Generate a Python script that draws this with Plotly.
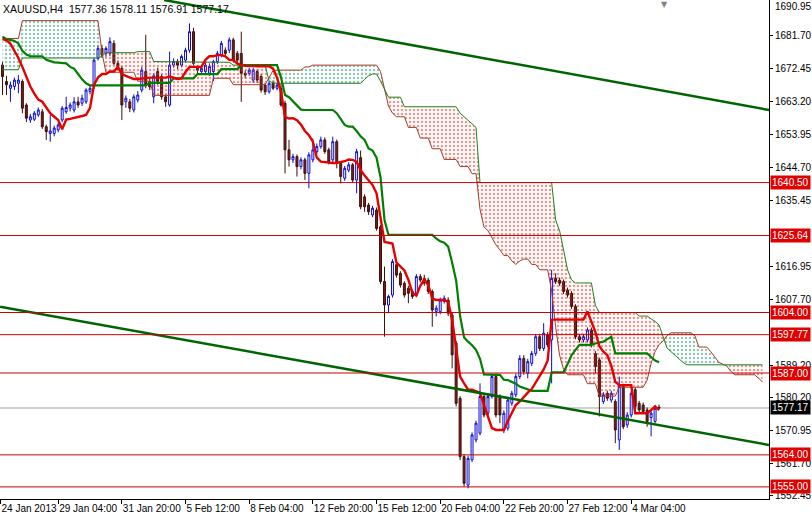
import numpy as np
import plotly.graph_objects as go

# ---------------- data ----------------
opens = [1673.5, 1668.9, 1667.0, 1667.5, 1668.4, 1668.9, 1662.3, 1658.1, 1658.3, 1659.5,
         1660.4, 1656.2, 1654.3, 1654.3, 1655.3, 1658.1, 1660.4, 1661.4, 1660.9, 1663.2,
         1662.8, 1663.2, 1666.1, 1667.5, 1675.4, 1678.2, 1676.8, 1676.8, 1679.6, 1674.0,
         1672.6, 1663.2, 1663.2, 1660.9, 1663.7, 1666.5, 1671.7, 1668.9, 1664.6, 1671.7,
         1670.3, 1664.6, 1662.3, 1673.5, 1674.5, 1673.5, 1674.9, 1677.7, 1682.9, 1672.6,
         1671.7, 1671.7, 1671.2, 1671.7, 1674.5, 1676.3, 1677.7, 1677.7, 1680.6, 1676.8,
         1676.8, 1671.2, 1671.2, 1669.3, 1671.7, 1670.3, 1667.9, 1666.0, 1668.4, 1667.0,
         1667.0, 1662.8, 1649.7, 1646.9, 1647.8, 1645.0, 1646.9, 1643.1, 1646.9, 1649.2,
         1650.6, 1652.5, 1649.7, 1646.9, 1652.0, 1645.9, 1641.7, 1644.0, 1645.5, 1641.2,
         1647.5, 1636.5, 1634.2, 1631.4, 1632.8, 1628.1, 1612.7, 1606.1, 1608.9, 1617.4,
         1615.0, 1612.2, 1610.8, 1609.9, 1608.9, 1614.1, 1613.6, 1613.1, 1609.9, 1604.3,
         1604.3, 1607.1, 1607.5, 1603.3, 1595.4, 1579.9, 1563.5, 1555.5, 1562.6, 1568.2,
         1570.1, 1580.4, 1575.7, 1580.4, 1586.0, 1580.4, 1571.0, 1571.5, 1578.5, 1580.9,
         1586.0, 1591.1, 1586.9, 1589.7, 1592.5, 1597.2, 1593.9, 1597.7, 1596.3, 1613.6,
         1613.1, 1612.7, 1610.3, 1609.4, 1605.7, 1597.2, 1596.3, 1596.3, 1599.1, 1592.5,
         1590.7, 1579.0, 1581.3, 1579.4, 1579.0, 1568.2, 1583.2, 1572.4, 1575.2, 1582.3,
         1578.5, 1578.0, 1576.6, 1574.5, 1573.4, 1577.36]
highs = [1674.5, 1670.5, 1668.9, 1670.0, 1670.7, 1669.5, 1662.8, 1659.8, 1660.6, 1661.6,
         1661.2, 1656.8, 1659.5, 1656.5, 1657.3, 1662.0, 1664.6, 1663.0, 1664.5, 1664.6,
         1665.2, 1667.0, 1668.0, 1675.5, 1679.0, 1679.2, 1678.8, 1681.3, 1680.5, 1674.8,
         1673.2, 1665.0, 1664.0, 1665.3, 1666.2, 1673.0, 1682.0, 1669.8, 1671.2, 1672.8,
         1671.0, 1665.3, 1677.3, 1675.4, 1675.2, 1676.5, 1678.4, 1685.2, 1684.0, 1673.4,
         1673.2, 1674.2, 1674.0, 1675.0, 1677.5, 1680.3, 1678.5, 1681.3, 1681.2, 1677.5,
         1682.9, 1672.0, 1672.8, 1672.8, 1672.3, 1671.0, 1668.5, 1669.0, 1669.2, 1668.6,
         1668.2, 1663.5, 1652.5, 1648.6, 1648.4, 1647.6, 1647.5, 1649.0, 1652.9, 1651.5,
         1653.4, 1653.2, 1650.3, 1653.4, 1652.6, 1646.5, 1645.2, 1646.2, 1646.0, 1650.0,
         1649.5, 1637.2, 1634.8, 1634.0, 1633.5, 1628.6, 1616.9, 1609.0, 1619.0, 1618.2,
         1615.6, 1612.8, 1611.5, 1610.5, 1614.8, 1614.8, 1614.6, 1613.8, 1610.5, 1606.0,
         1608.2, 1608.8, 1608.3, 1604.0, 1596.0, 1580.5, 1564.2, 1563.8, 1570.3, 1573.6,
         1584.1, 1581.0, 1581.2, 1586.8, 1586.9, 1581.0, 1576.5, 1580.2, 1582.0, 1586.8,
         1592.0, 1592.0, 1591.0, 1593.2, 1598.0, 1598.0, 1601.0, 1598.5, 1616.0, 1615.0,
         1613.8, 1613.3, 1611.0, 1610.0, 1606.3, 1598.0, 1598.0, 1599.8, 1599.8, 1593.2,
         1591.3, 1581.6, 1582.0, 1582.0, 1579.6, 1586.0, 1584.0, 1576.0, 1582.0, 1583.0,
         1579.2, 1578.7, 1577.3, 1576.3, 1578.0, 1578.11]
lows = [1665.1, 1665.1, 1663.2, 1666.5, 1665.6, 1660.0, 1657.5, 1657.3, 1657.8, 1659.0,
        1655.6, 1652.5, 1652.0, 1653.5, 1654.6, 1657.5, 1659.8, 1660.5, 1660.2, 1661.5,
        1662.0, 1662.6, 1665.3, 1666.8, 1674.8, 1675.5, 1675.8, 1676.0, 1673.5, 1672.3,
        1658.1, 1661.5, 1660.3, 1660.2, 1663.0, 1665.8, 1667.0, 1666.5, 1662.8, 1668.0,
        1663.8, 1661.8, 1661.8, 1672.8, 1672.4, 1672.9, 1674.2, 1677.0, 1673.5, 1671.2,
        1670.8, 1671.0, 1670.5, 1669.0, 1673.8, 1675.7, 1676.0, 1676.9, 1674.2, 1674.0,
        1663.2, 1669.8, 1670.5, 1668.5, 1668.5, 1665.8, 1665.1, 1665.5, 1666.5, 1666.4,
        1661.8, 1643.1, 1645.0, 1646.0, 1642.2, 1644.2, 1641.2, 1638.9, 1646.2, 1648.5,
        1650.0, 1648.6, 1645.6, 1646.2, 1644.5, 1640.3, 1641.0, 1643.4, 1640.5, 1637.5,
        1633.0, 1632.3, 1631.4, 1630.8, 1627.0, 1612.0, 1597.2, 1603.8, 1608.2, 1613.8,
        1611.0, 1608.2, 1606.6, 1607.8, 1608.3, 1612.5, 1611.5, 1609.2, 1600.0, 1602.9,
        1603.5, 1606.5, 1603.0, 1588.3, 1577.6, 1562.5, 1555.1, 1554.6, 1562.0, 1567.5,
        1569.5, 1574.5, 1575.0, 1579.8, 1574.5, 1572.9, 1570.1, 1570.8, 1577.8, 1580.2,
        1585.3, 1586.5, 1585.5, 1589.0, 1591.8, 1593.2, 1593.2, 1594.2, 1584.1, 1612.0,
        1611.5, 1609.2, 1608.2, 1605.0, 1596.5, 1595.6, 1595.6, 1595.6, 1594.2, 1586.9,
        1574.8, 1578.3, 1579.2, 1578.7, 1567.3, 1565.4, 1571.2, 1571.6, 1574.5, 1576.6,
        1575.9, 1575.5, 1571.9, 1569.2, 1572.8, 1576.91]
closes = [1670.3, 1668.0, 1667.9, 1669.3, 1669.3, 1661.4, 1658.6, 1659.0, 1660.0, 1660.9,
          1656.2, 1654.8, 1655.0, 1655.8, 1656.7, 1661.4, 1661.6, 1662.3, 1663.2, 1662.3,
          1664.2, 1666.5, 1667.0, 1674.9, 1678.2, 1676.3, 1678.2, 1680.1, 1674.0, 1673.1,
          1662.3, 1664.2, 1661.4, 1664.6, 1665.1, 1672.1, 1667.9, 1667.4, 1670.5, 1668.9,
          1664.6, 1663.2, 1673.5, 1674.5, 1673.5, 1675.9, 1677.7, 1682.9, 1674.0, 1672.1,
          1672.6, 1673.5, 1673.1, 1674.5, 1676.8, 1679.6, 1676.8, 1680.6, 1674.9, 1674.9,
          1671.2, 1670.7, 1672.1, 1672.1, 1669.3, 1666.5, 1666.0, 1668.4, 1667.0, 1667.9,
          1662.3, 1649.7, 1646.9, 1647.8, 1645.0, 1646.9, 1643.1, 1648.3, 1649.7, 1650.6,
          1652.5, 1649.2, 1646.4, 1652.0, 1645.9, 1642.2, 1644.5, 1645.5, 1641.2, 1649.2,
          1633.7, 1633.7, 1632.3, 1633.3, 1627.6, 1612.7, 1606.1, 1608.5, 1618.3, 1614.5,
          1611.7, 1608.9, 1609.4, 1608.5, 1614.1, 1613.1, 1612.2, 1609.9, 1604.7, 1605.2,
          1607.5, 1608.0, 1603.8, 1592.1, 1578.5, 1563.5, 1556.0, 1563.0, 1569.6, 1572.9,
          1580.4, 1575.2, 1580.4, 1586.0, 1575.2, 1575.2, 1575.7, 1579.4, 1581.3, 1586.0,
          1591.1, 1587.4, 1590.2, 1592.5, 1597.2, 1593.9, 1598.2, 1594.9, 1613.6, 1612.7,
          1612.2, 1609.9, 1608.9, 1605.7, 1597.2, 1596.3, 1597.2, 1599.1, 1594.9, 1588.8,
          1580.4, 1580.9, 1579.9, 1581.3, 1571.0, 1583.2, 1571.9, 1575.2, 1581.3, 1577.6,
          1576.6, 1576.2, 1573.4, 1575.7, 1577.1, 1577.17]

tenkan = [1680.8, 1680.5, 1679.5, 1677.5, 1675.5, 1673.0, 1670.0, 1667.5, 1665.5, 1663.8,
          1663.2, 1661.5, 1660.0, 1659.0, 1658.1, 1655.5, 1658.2, 1658.4, 1658.6, 1659.0,
          1659.2, 1659.5, 1661.5, 1668.0, 1670.0, 1671.0, 1671.0, 1671.7, 1671.7, 1673.0,
          1671.0, 1670.5, 1670.0, 1669.6, 1669.6, 1669.8, 1669.8, 1670.0, 1670.0, 1670.0,
          1670.0, 1670.0, 1670.3, 1670.0, 1669.6, 1669.8, 1671.6, 1673.0, 1673.0, 1673.0,
          1673.0, 1675.0, 1676.0, 1676.0, 1676.3, 1676.3, 1676.0, 1675.0, 1674.9, 1674.0,
          1673.5, 1673.3, 1673.2, 1673.2, 1673.2, 1673.2, 1673.2, 1673.2, 1672.5, 1670.0,
          1666.0, 1659.0, 1658.5, 1658.6, 1658.0, 1656.8, 1655.0, 1653.8, 1652.0, 1647.5,
          1646.4, 1646.2, 1646.0, 1646.0, 1646.0, 1646.2, 1646.5, 1647.0, 1646.9, 1646.3,
          1644.0, 1642.5, 1641.0, 1639.8, 1637.5, 1630.0, 1623.8, 1623.6, 1623.4, 1618.0,
          1617.0, 1615.8, 1613.2, 1609.5, 1608.8, 1611.5, 1613.3, 1611.7, 1608.0, 1607.5,
          1607.5, 1607.5, 1607.0, 1602.0, 1594.0, 1586.0, 1584.1, 1582.3, 1582.3, 1582.0,
          1581.5, 1578.0, 1574.5, 1571.5, 1571.0, 1571.0, 1571.0, 1573.5, 1576.0, 1578.0,
          1579.0, 1580.4, 1581.5, 1582.5, 1584.3, 1586.0, 1588.0, 1590.5, 1602.0, 1602.0,
          1602.0, 1602.0, 1602.0, 1602.0, 1602.0, 1602.0, 1602.0, 1604.3, 1601.5, 1598.5,
          1594.5, 1593.0, 1592.0, 1589.0, 1584.5, 1583.6, 1583.6, 1583.6, 1583.6, 1575.7,
          1575.7, 1575.7, 1575.7, 1576.6, 1577.6, 1576.6]
kijun = [1681.5, 1680.8, 1680.6, 1680.3, 1679.6, 1677.5, 1676.5, 1676.0, 1676.0, 1676.0,
         1676.0, 1675.0, 1674.6, 1674.3, 1674.2, 1674.0, 1674.0, 1673.0, 1672.5, 1671.0,
         1669.5, 1668.4, 1667.8, 1667.8, 1667.8, 1667.8, 1667.8, 1667.8, 1667.8, 1667.8,
         1667.8, 1667.8, 1667.8, 1667.8, 1667.8, 1667.8, 1667.8, 1668.5, 1668.5, 1668.5,
         1668.5, 1668.5, 1668.5, 1669.8, 1669.8, 1669.8, 1669.8, 1669.8, 1669.8, 1671.0,
         1671.0, 1671.0, 1671.0, 1671.0, 1671.0, 1672.4, 1672.4, 1672.4, 1672.4, 1672.4,
         1673.5, 1673.5, 1673.5, 1673.5, 1673.5, 1673.5, 1673.5, 1673.5, 1673.5, 1673.5,
         1670.0, 1665.1, 1664.5, 1663.3, 1662.0, 1661.0, 1660.9, 1660.9, 1660.9, 1660.9,
         1660.9, 1660.9, 1660.9, 1660.9, 1660.0, 1658.5, 1656.7, 1656.2, 1656.2, 1655.0,
         1653.5, 1652.5, 1650.1, 1649.5, 1647.5, 1642.0, 1630.0, 1625.8, 1625.8, 1625.8,
         1625.8, 1625.8, 1625.8, 1625.8, 1625.8, 1625.8, 1625.8, 1625.8, 1625.8, 1624.8,
         1624.0, 1623.6, 1622.5, 1618.0, 1613.0, 1603.0, 1597.0, 1595.8, 1594.8, 1593.5,
         1591.0, 1586.6, 1586.5, 1586.5, 1586.5, 1586.5, 1585.1, 1585.0, 1584.5, 1584.0,
         1583.2, 1582.8, 1582.3, 1582.0, 1582.0, 1582.0, 1582.0, 1582.0, 1587.2, 1587.2,
         1587.2, 1587.2, 1589.5, 1592.0, 1593.5, 1594.9, 1594.9, 1594.9, 1594.9, 1595.3,
         1595.6, 1595.8, 1596.5, 1597.2, 1592.5, 1592.5, 1592.5, 1592.5, 1592.5, 1592.5,
         1592.5, 1592.5, 1592.5, 1591.5, 1590.5, 1590.0]

# Senkou spans (already shifted 26 bars forward)
span_a = ([1681.0] * 5 + [1686.0] * 20 + [1677.0] + [1671.5] * 8 + [1669.0] * 4 +
          [1665.0] * 15 + [1669.8] * 5 + [1668.0] * 9 + [1670.0, 1672.0] + [1672.1] * 7 +
          [1673.0] * 2 + [1673.5] * 17 + [1671.7, 1667.0, 1662.0, 1660.0] + [1659.0] * 3 +
          [1656.0] * 3 + [1653.0] * 3 + [1650.0] * 3 + [1647.0] * 4 + [1645.0] * 3 +
          [1643.0] * 2 + [1633.0, 1628.0, 1627.0, 1625.0, 1623.0, 1621.6] + [1620.0] * 2 +
          [1618.5, 1617.5, 1618.5] + [1619.0] * 2 + [1617.5] * 2 + [1616.0] * 3 +
          [1610.0, 1600.0, 1592.0, 1588.0] + [1586.5] * 5 + [1584.0] * 3 + [1580.5] * 5 +
          [1583.0] * 7 + [1585.0, 1589.7, 1593.0, 1595.0, 1596.0, 1597.5] + [1598.3] * 6 +
          [1597.5] + [1594.3] * 3 + [1593.0, 1591.5, 1590.0, 1589.5, 1589.0, 1587.5] +
          [1586.5] * 6 + [1585.5, 1584.5])
span_b = ([1672.2] * 5 + [1675.5] * 20 + [1676.0] + [1677.0] * 8 + [1677.3] * 4 +
          [1674.5] * 6 + [1674.3] * 14 + [1673.5] * 9 + [1669.0, 1668.5] + [1668.4] * 22 +
          [1669.5, 1670.5] + [1671.0] * 2 + [1669.0, 1666.5] + [1664.5] * 4 + [1661.8] * 14 +
          [1660.0, 1659.0, 1658.0, 1657.0, 1656.0] + [1640.5] * 19 +
          [1630.0, 1627.0, 1621.6, 1616.0, 1613.2] + [1612.3] * 5 + [1606.0] + [1604.0] * 10 +
          [1603.0] * 3 + [1602.2, 1601.5, 1600.5, 1597.5, 1594.0, 1593.0, 1592.0, 1591.0, 1590.0] +
          [1589.3] * 20)

levels = [1640.50, 1625.64, 1604.00, 1597.77, 1587.00, 1564.00, 1555.00]
last_price = 1577.17
header = "XAUUSD,H4  1577.36 1578.11 1576.91 1577.17"

price_ticks = [1681.70, 1672.45, 1663.20, 1653.95, 1644.70, 1635.45,
               1616.95, 1607.70, 1589.20, 1580.20, 1570.95, 1561.70, 1552.45]
top_price_label = 1690.95
time_tick_idx = [-0.5, 14, 30, 46, 62, 78, 94, 110, 126, 142, 158]
time_tick_text = ["24 Jan 2013", "29 Jan 04:00", "31 Jan 20:00", "5 Feb 12:00", "8 Feb 04:00",
                  "12 Feb 20:00", "15 Feb 12:00", "20 Feb 04:00", "22 Feb 20:00",
                  "27 Feb 12:00", "4 Mar 04:00"]

# trend lines: (bar index, price) end points
upper_trend_x = [40.6, 192.6]
upper_trend_y = [1691.8, 1660.9]
lower_trend_x = [-0.6, 192.6]
lower_trend_y = [1605.6, 1566.8]

# ---------------- figure ----------------
idx = list(range(len(opens)))
cidx = list(range(len(span_a)))
A = np.array(span_a)
B = np.array(span_b)
top = np.maximum(A, B)

fig = go.Figure()
clear = 'rgba(0,0,0,0)'
# bullish cloud (A above B) - green dots
fig.add_trace(go.Scatter(x=cidx, y=B, mode='lines', line=dict(width=0, color=clear), hoverinfo='skip'))
fig.add_trace(go.Scatter(x=cidx, y=top, mode='lines', line=dict(width=0, color=clear), fill='tonexty',
                         fillcolor=clear,
                         fillpattern=dict(shape='.', fgcolor='rgb(40,140,110)', bgcolor=clear,
                                          size=4, solidity=0.3), hoverinfo='skip'))
# bearish cloud (B above A) - red dots
fig.add_trace(go.Scatter(x=cidx, y=A, mode='lines', line=dict(width=0, color=clear), hoverinfo='skip'))
fig.add_trace(go.Scatter(x=cidx, y=top, mode='lines', line=dict(width=0, color=clear), fill='tonexty',
                         fillcolor=clear,
                         fillpattern=dict(shape='.', fgcolor='rgb(215,50,40)', bgcolor=clear,
                                          size=4, solidity=0.33), hoverinfo='skip'))
# span edges
fig.add_trace(go.Scatter(x=cidx, y=A, mode='lines', line=dict(width=1, color='rgb(165,60,40)')))
fig.add_trace(go.Scatter(x=cidx, y=B, mode='lines', line=dict(width=1, color='rgb(30,130,30)')))

fig.add_trace(go.Candlestick(
    x=idx, open=opens, high=highs, low=lows, close=closes,
    increasing=dict(line=dict(color='rgb(10,10,210)', width=1), fillcolor='white'),
    decreasing=dict(line=dict(color='rgb(60,15,10)', width=1), fillcolor='rgb(125,30,20)'),
    whiskerwidth=0))

fig.add_trace(go.Scatter(x=idx, y=kijun, mode='lines', line=dict(width=2.2, color='rgb(0,128,0)')))
fig.add_trace(go.Scatter(x=idx, y=tenkan, mode='lines', line=dict(width=2.4, color='rgb(230,0,0)')))

fig.add_trace(go.Scatter(x=upper_trend_x, y=upper_trend_y, mode='lines',
                         line=dict(width=2.5, color='rgb(0,100,0)')))
fig.add_trace(go.Scatter(x=lower_trend_x, y=lower_trend_y, mode='lines',
                         line=dict(width=2.5, color='rgb(0,100,0)')))

shapes = [dict(type='line', xref='paper', x0=0, x1=1, yref='y', y0=last_price, y1=last_price,
               line=dict(color='rgb(160,160,160)', width=1), layer='below')]
for lv in levels:
    shapes.append(dict(type='line', xref='paper', x0=0, x1=1, yref='y', y0=lv, y1=lv,
                       line=dict(color='rgb(200,0,0)', width=1), layer='above'))

annotations = [dict(xref='paper', yref='paper', x=0, y=1, xanchor='left', yanchor='top',
                    text=header, showarrow=False, xshift=1, yshift=-1,
                    font=dict(family='Liberation Sans', size=10.5, color='black'))]
annotations.append(dict(xref='paper', yref='paper', x=1, y=1, xanchor='left',
                        yanchor='top', text=f"{top_price_label:.2f}", showarrow=False,
                        xshift=4, yshift=1, font=dict(family='Liberation Sans', size=10, color='black')))
for lv in levels:
    annotations.append(dict(xref='paper', yref='y', x=1, y=lv, xanchor='left', yanchor='middle',
                            text=f"{lv:.2f}", showarrow=False, xshift=1, bgcolor='rgb(225,0,0)',
                            borderpad=1, font=dict(family='Liberation Sans', size=10, color='white')))
annotations.append(dict(xref='paper', yref='y', x=1, y=last_price, xanchor='left', yanchor='middle',
                        text=f"{last_price:.2f}", showarrow=False, xshift=1, bgcolor='black',
                        borderpad=1, font=dict(family='Liberation Sans', size=10, color='white')))
annotations.append(dict(xref='paper', yref='paper', x=668 / 773, y=1, xanchor='center', yanchor='top',
                        text='\u25BC', showarrow=False, yshift=2,
                        font=dict(family='DejaVu Sans', size=8, color='rgb(130,130,140)')))

fig.update_layout(
    width=812, height=516,
    margin=dict(l=0, r=39, t=0, b=17),
    paper_bgcolor='white', plot_bgcolor='white',
    showlegend=False,
    font=dict(family='Liberation Sans', size=10, color='black'),
    shapes=shapes, annotations=annotations,
    xaxis=dict(range=[-0.625, 192.625], rangeslider=dict(visible=False), showgrid=False,
               zeroline=False, showline=True, linecolor='black', linewidth=1,
               tickmode='array', tickvals=time_tick_idx, ticktext=time_tick_text,
               ticks='outside', ticklen=4, tickcolor='black', ticklabelposition='outside right',
               tickangle=0,
               tickfont=dict(family='Liberation Sans', size=10, color='black')),
    yaxis=dict(range=[1551.6, 1691.8], side='right', showgrid=False, zeroline=False,
               showline=True, linecolor='black', linewidth=1,
               tickmode='array', tickvals=price_ticks, ticktext=[f"{v:.2f}" for v in price_ticks],
               ticks='outside', ticklen=3, tickcolor='black',
               tickfont=dict(family='Liberation Sans', size=10, color='black')),
)

fig.write_html("out.html", config={'displayModeBar': False},
               post_script="document.body.style.margin='0';document.body.style.overflow='hidden';")
